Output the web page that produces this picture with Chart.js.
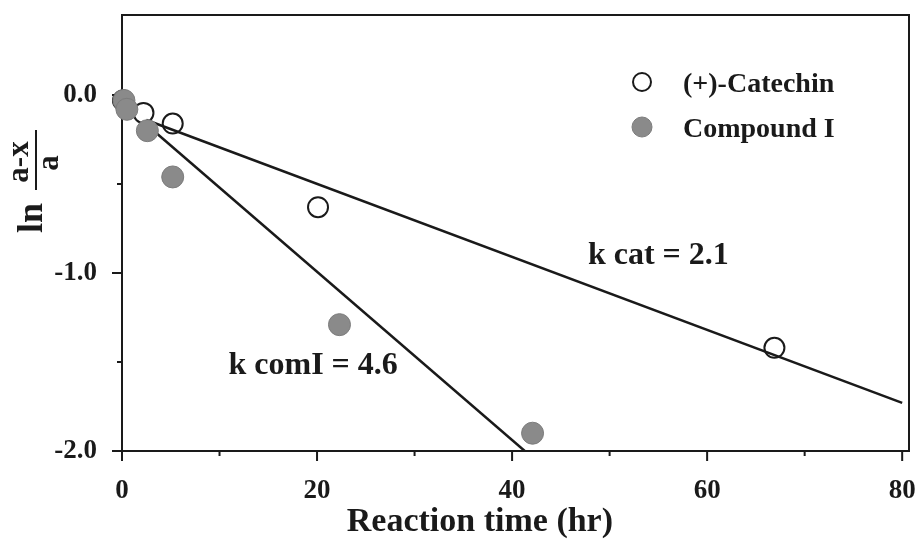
<!DOCTYPE html>
<html lang="en">
<head>
<meta charset="UTF-8">
<title>Reaction kinetics</title>
<script src="https://cdn.jsdelivr.net/npm/chart.js"></script>
<style>
    body { margin: 0; background: #fff; }
    .chart-container { width: 916px; height: 540px; }
</style>
</head>
<body>
<div class="chart-container"><canvas id="kineticsChart"></canvas></div>
<script>
    // measured ln((a-x)/a) against reaction time (hr)
    const catechinTime = [0.1, 2.2, 5.2, 20.1, 66.9];
    const catechinLn   = [-0.03, -0.10, -0.16, -0.63, -1.42];
    const compoundTime = [0.2, 0.5, 2.6, 5.2, 22.3, 42.1];
    const compoundLn   = [-0.03, -0.08, -0.20, -0.46, -1.29, -1.90];

    // fitted first-order lines
    const catechinFitTime = [2.5, 80];
    const catechinFitLn   = [-0.14, -1.73];
    const compoundFitTime = [2.5, 41.3];
    const compoundFitLn   = [-0.165, -2.0];

    // axis ticks (labelled ones are every 20 hr / every 1.0)
    const xTickValues = [0, 10, 20, 30, 40, 50, 60, 70, 80];
    const yTickValues = [0, -0.5, -1.0, -1.5, -2.0];
    const xLabelled = [0, 20, 40, 60, 80];
    const yLabelled = [0, -1, -2];

    // rate constant notes: [text, time, ln]
    const rateNotes = [
        ['k cat = 2.1', 55.0, -0.90],
        ['k comI = 4.6', 19.6, -1.52]
    ];

    const SERIF = '"Liberation Serif", "DejaVu Serif", serif';
    const INK = '#1a1a1a';
    const GREY = '#8a8a8a';

    function toPoints(xs, ys) {
        return xs.map((x, i) => ({ x: x, y: ys[i] }));
    }

    // keep the plot box fixed: no extra room reserved for edge labels
    function fixBox(size) {
        return scale => {
            if (scale.isHorizontal()) scale.height = size;
            else scale.width = size;
            scale.paddingTop = scale.paddingBottom = 0;
            scale.paddingLeft = scale.paddingRight = 0;
        };
    }

    // box frame plus outward tick marks, drawn under the data
    const frameAndTicks = {
        id: 'frameAndTicks',
        beforeDatasetsDraw(chart) {
            const { ctx, chartArea: a, scales: { x, y } } = chart;
            ctx.save();
            ctx.strokeStyle = INK;
            ctx.lineWidth = 2;
            ctx.strokeRect(a.left, a.top, a.right - a.left, a.bottom - a.top);
            ctx.beginPath();
            xTickValues.forEach(v => {
                const px = x.getPixelForValue(v);
                const len = xLabelled.includes(v) ? 10 : 5;
                ctx.moveTo(px, a.bottom);
                ctx.lineTo(px, a.bottom + len);
            });
            yTickValues.forEach(v => {
                const py = y.getPixelForValue(v);
                const len = yLabelled.includes(v) ? 10 : 5;
                ctx.moveTo(a.left, py);
                ctx.lineTo(a.left - len, py);
            });
            ctx.stroke();
            ctx.restore();
        }
    };

    // legend, rate notes and axis titles
    const annotations = {
        id: 'annotations',
        afterDraw(chart) {
            const { ctx, chartArea: a, scales: { x, y } } = chart;
            ctx.save();
            ctx.fillStyle = INK;

            // legend in the upper right corner
            const rows = chart.data.datasets
                .filter(d => d.legendText)
                .sort((p, q) => p.legendRow - q.legendRow);
            rows.forEach((d, i) => {
                const cy = a.top + 67 + i * 45;
                const cx = a.right - 267;
                ctx.beginPath();
                ctx.arc(cx, cy, d.pointRadius - 1, 0, Math.PI * 2);
                if (d.pointBackgroundColor !== 'transparent') {
                    ctx.fillStyle = d.pointBackgroundColor;
                    ctx.fill();
                }
                ctx.lineWidth = d.pointBorderWidth;
                ctx.strokeStyle = d.pointBorderColor;
                ctx.stroke();
                ctx.fillStyle = INK;
                ctx.font = 'bold 28px ' + SERIF;
                ctx.textAlign = 'left';
                ctx.textBaseline = 'middle';
                ctx.fillText(d.legendText, a.right - 226, cy + 3);
            });

            // rate constants next to the fitted lines
            ctx.font = 'bold 32px ' + SERIF;
            ctx.textAlign = 'center';
            ctx.textBaseline = 'middle';
            rateNotes.forEach(([text, t, v]) => {
                ctx.fillText(text, x.getPixelForValue(t), y.getPixelForValue(v));
            });

            // x axis title
            ctx.font = 'bold 34px ' + SERIF;
            ctx.fillText('Reaction time (hr)', x.getPixelForValue(36.7), 522);

            // y axis title: ln (a-x)/a, rotated
            ctx.translate(0, 240);
            ctx.rotate(-Math.PI / 2);
            ctx.textBaseline = 'alphabetic';
            ctx.font = 'bold 36px ' + SERIF;
            ctx.fillText('ln', 22, 42);
            ctx.font = 'bold 31px ' + SERIF;
            ctx.fillText('a-x', 78, 28);
            ctx.fillText('a', 77, 58);
            ctx.beginPath();
            ctx.lineWidth = 2;
            ctx.strokeStyle = INK;
            ctx.moveTo(50, 36);
            ctx.lineTo(110, 36);
            ctx.stroke();
            ctx.restore();
        }
    };

    const ctx = document.getElementById('kineticsChart').getContext('2d');
    new Chart(ctx, {
        type: 'scatter',
        data: {
            datasets: [
                {
                    label: 'Compound I',
                    legendText: 'Compound I',
                    legendRow: 1,
                    data: toPoints(compoundTime, compoundLn),
                    pointRadius: 11,
                    pointBackgroundColor: GREY,
                    pointBorderColor: '#7c7c7c',
                    pointBorderWidth: 1,
                    clip: false,
                    order: 0
                },
                {
                    label: '(+)-Catechin',
                    legendText: '(+)-Catechin',
                    legendRow: 0,
                    data: toPoints(catechinTime, catechinLn),
                    pointRadius: 10,
                    pointBackgroundColor: 'transparent',
                    pointBorderColor: INK,
                    pointBorderWidth: 2,
                    clip: false,
                    order: 1
                },
                {
                    type: 'line',
                    label: 'catechin fit',
                    data: toPoints(catechinFitTime, catechinFitLn),
                    borderColor: INK,
                    borderWidth: 2.5,
                    pointRadius: 0,
                    fill: false,
                    order: 2
                },
                {
                    type: 'line',
                    label: 'compound I fit',
                    data: toPoints(compoundFitTime, compoundFitLn),
                    borderColor: INK,
                    borderWidth: 2.5,
                    pointRadius: 0,
                    fill: false,
                    order: 2
                }
            ]
        },
        options: {
            responsive: true,
            maintainAspectRatio: false,
            animation: false,
            layout: {
                autoPadding: false,
                padding: { top: 15, right: 7, left: 0, bottom: 0 }
            },
            plugins: {
                legend: { display: false },
                tooltip: { enabled: false }
            },
            scales: {
                x: {
                    type: 'linear',
                    min: 0,
                    max: 80.7,
                    afterFit: fixBox(89),
                    grid: { display: false, drawTicks: false },
                    border: { display: false },
                    ticks: {
                        stepSize: 20,
                        includeBounds: false,
                        autoSkip: false,
                        maxRotation: 0,
                        padding: 24,
                        color: INK,
                        font: { family: SERIF, size: 27, weight: 'bold' },
                        callback: v => xLabelled.includes(v) ? String(v) : ''
                    }
                },
                y: {
                    type: 'linear',
                    min: -2.0,
                    max: 0.45,
                    afterFit: fixBox(122),
                    grid: { display: false, drawTicks: false },
                    border: { display: false },
                    ticks: {
                        stepSize: 1,
                        includeBounds: false,
                        autoSkip: false,
                        padding: 25,
                        color: INK,
                        font: { family: SERIF, size: 27, weight: 'bold' },
                        callback: v => yLabelled.includes(v) ? v.toFixed(1) : ''
                    }
                }
            }
        },
        plugins: [frameAndTicks, annotations]
    });
</script>
</body>
</html>
